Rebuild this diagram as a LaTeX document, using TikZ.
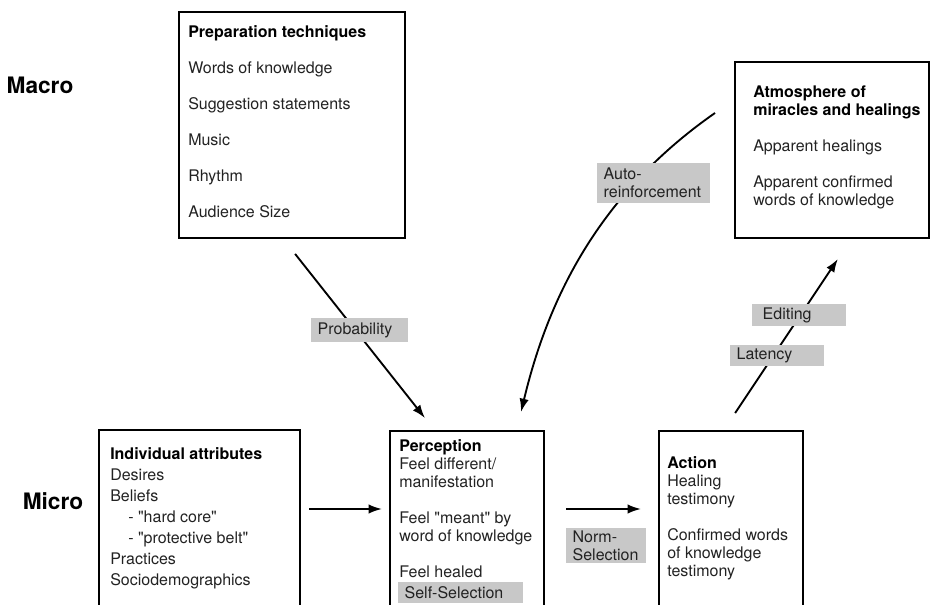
\documentclass[tikz,border=0pt]{standalone}
\usepackage{fontspec}
\setmainfont{TeX Gyre Heros}[Ligatures=TeXOff]
\usetikzlibrary{positioning,calc,arrows.meta}
\definecolor{tagfill}{HTML}{C8C8C8}
\definecolor{ink}{HTML}{222222}

\begin{document}
\begin{tikzpicture}[x=0.75pt,y=-0.75pt,
  panel/.style={draw,line width=1.5pt,anchor=north west,inner sep=0pt},
  panetext/.style={anchor=north west,align=left,inner sep=0pt,text=ink},
  tag/.style={fill=tagfill,inner xsep=5pt,inner ysep=0pt,align=left,text=ink,font=\fontsize{12}{13.5}\selectfont},
  level/.style={font=\fontsize{17}{20}\selectfont\bfseries},
  arr/.style={-{Latex[length=10pt,width=7pt]},line width=1.4pt}]
\useasboundingbox (0,0) rectangle (930,605);
\clip (0,0) rectangle (930,605);
\node[level] (macro) at (40,85) {Macro};
\node[level] (micro) at (53,501) {Micro};
% macro level
\node[panel,minimum width=169.5pt,minimum height=169.5pt] (prep) at (178,11) {};
\node[panetext,font=\fontsize{12}{27}\selectfont] (preptext) at (188,25) {\textcolor{black}{\bfseries Preparation techniques}\\Words of knowledge\\Suggestion statements\\Music\\Rhythm\\Audience Size};
\node[panel,minimum width=145.5pt,minimum height=132pt] (atmo) at (734,61) {};
\node[panetext,font=\fontsize{12}{13.5}\selectfont] (atmotext) at (753,86) {\textcolor{black}{\bfseries Atmosphere of}\\\textcolor{black}{\bfseries miracles and healings}\\[13.5pt]Apparent healings\\[13.5pt]Apparent confirmed\\words of knowledge};
% micro level
\node[panel,minimum width=150.75pt,minimum height=187.5pt] (indiv) at (98,429) {};
\node[panetext,font=\fontsize{12}{15.75}\selectfont] (indivtext) at (110,447) {\textcolor{black}{\bfseries Individual attributes}\\Desires\\Beliefs\\\hspace*{13.5pt}- "hard core"\\\hspace*{13.5pt}- "protective belt"\\Practices\\Sociodemographics};
\node[panel,minimum width=115.5pt,minimum height=187.5pt] (perc) at (389,430) {};
\node[panetext,font=\fontsize{12}{13.5}\selectfont] (perctext) at (399,439) {\textcolor{black}{\bfseries Perception}\\Feel different/\\manifestation\\[13.5pt]Feel "meant" by\\word of knowledge\\[13.5pt]Feel healed};
\node[panel,minimum width=108pt,minimum height=187.5pt] (act) at (658,430) {};
\node[panetext,font=\fontsize{12}{13.5}\selectfont] (acttext) at (667,456) {\textcolor{black}{\bfseries Action}\\Healing\\testimony\\[13.5pt]Confirmed words\\of knowledge\\testimony};
% connectors
\coordinate (microrow) at (0,509);
\draw[arr,shorten <=14.25pt,shorten >=11.4pt] ($(prep.south)+(-8.7,0)$) -- ($(perc.north)+(-32.6,0)$);
\draw[arr,shorten <=6pt,shorten >=5.25pt] (indiv.east |- microrow) -- (perc.west |- microrow);
\draw[arr,shorten <=15.75pt,shorten >=12.75pt] (perc.east |- microrow) -- (act.west |- microrow);
\draw[arr,shorten <=15.3pt,shorten >=18pt] ($(act.north)+(-7.2,0)$) -- ($(atmo.south)+(19.2,0)$);
\draw[arr] ($(atmo.west)+(-19,-37)$) .. controls (590,200) and (545,312) .. ($(perc.north)+(54,-18)$);
% labels on the connectors
\node[tag,text width=62.75pt,minimum height=18pt] (prob) at (359.5,330) {Probability};
\node[tag,text width=74.75pt,minimum height=30pt] (autoreinf) at (653.5,183) {Auto-\\reinforcement};
\node[tag,text width=60.5pt,minimum height=16.5pt] (editing) at (799,315) {\hspace*{3pt}Editing};
\node[tag,text width=60.5pt,minimum height=15.75pt] (latency) at (777,355.5) {Latency};
\node[tag,text width=50pt,minimum height=26.25pt] (normsel) at (606,545.5) {Norm-\\Selection};
\node[tag,text width=83.75pt,minimum height=15.75pt] (selfsel) at (460.5,592.5) {Self-Selection};
\end{tikzpicture}
\end{document}
